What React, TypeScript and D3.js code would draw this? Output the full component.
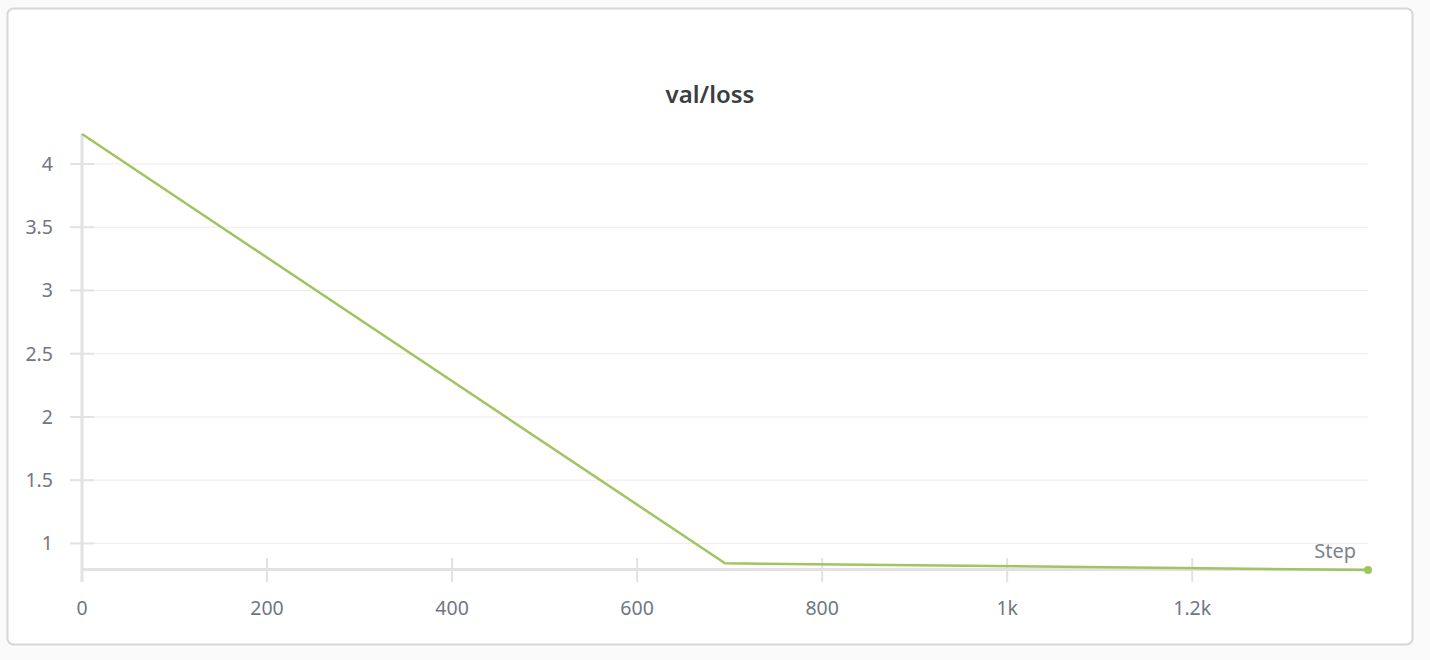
import React from "react";
import * as d3 from "d3";

// val/loss per step
const steps = [0, 695, 1390];
const lossValues = [4.237, 0.843, 0.79];

const xTickValues = [0, 200, 400, 600, 800, 1000, 1200];
const xTickLabels = ["0", "200", "400", "600", "800", "1k", "1.2k"];
const yTickValues = [1, 1.5, 2, 2.5, 3, 3.5, 4];
const yTickLabels = ["1", "1.5", "2", "2.5", "3", "3.5", "4"];

const W = 1430;
const H = 660;
const FONT = "'Source Sans Pro', 'Noto Sans', 'Open Sans', sans-serif";

export default function App() {
  const data = steps.map((s, i) => ({ step: s, value: lossValues[i] }));

  const x = d3.scaleLinear().domain([0, 1390]).range([82, 1368]);
  const y = d3
    .scaleLinear()
    .domain([d3.min(lossValues) as number, d3.max(lossValues) as number])
    .range([570, 134]);

  const line = d3
    .line<{ step: number; value: number }>()
    .x(d => x(d.step))
    .y(d => y(d.value));

  const last = data[data.length - 1];
  const axisColor = "#e2e2e4";
  const labelColor = "#707684";

  return (
    <svg
      width={W}
      height={H}
      style={{ position: "absolute", left: 0, top: 0, background: "#fafafa" }}
      fontFamily={FONT}
    >
      {/* panel */}
      <rect x={7.5} y={8.5} width={1405} height={636} rx={6} fill="#fff" stroke="#d6d6d9" strokeWidth={2} />

      <text x={710} y={103} textAnchor="middle" fontSize={24} fontWeight={600} fill="#3b3d42">
        val/loss
      </text>

      {/* grid */}
      {yTickValues.map(v => (
        <line key={"g" + v} x1={82} x2={1368} y1={y(v)} y2={y(v)} stroke="#ececee" strokeWidth={1} />
      ))}

      {/* y axis */}
      <line x1={82} x2={82} y1={134} y2={582} stroke={axisColor} strokeWidth={3} />
      {yTickValues.map((v, i) => (
        <g key={"y" + v}>
          <line x1={70} x2={94} y1={y(v)} y2={y(v)} stroke={axisColor} strokeWidth={2} />
          <text x={53} y={y(v)} dy="0.36em" textAnchor="end" fontSize={19.5} fill={labelColor}>
            {yTickLabels[i]}
          </text>
        </g>
      ))}

      {/* x axis */}
      <line x1={82} x2={1368} y1={569.5} y2={569.5} stroke={axisColor} strokeWidth={3} />
      {xTickValues.map((v, i) => (
        <g key={"x" + v}>
          <line x1={x(v)} x2={x(v)} y1={558} y2={582} stroke={axisColor} strokeWidth={2} />
          <text x={x(v)} y={615} textAnchor="middle" fontSize={19.5} fill={labelColor}>
            {xTickLabels[i]}
          </text>
        </g>
      ))}
      <text x={1356} y={558} textAnchor="end" fontSize={20} fill="#7d828d">
        Step
      </text>

      {/* series */}
      <path d={line(data) as string} fill="none" stroke="#9fc55e" strokeWidth={2.5} strokeLinejoin="round" />
      <circle cx={x(last.step)} cy={y(last.value)} r={4} fill="#9fc55e" />
    </svg>
  );
}
